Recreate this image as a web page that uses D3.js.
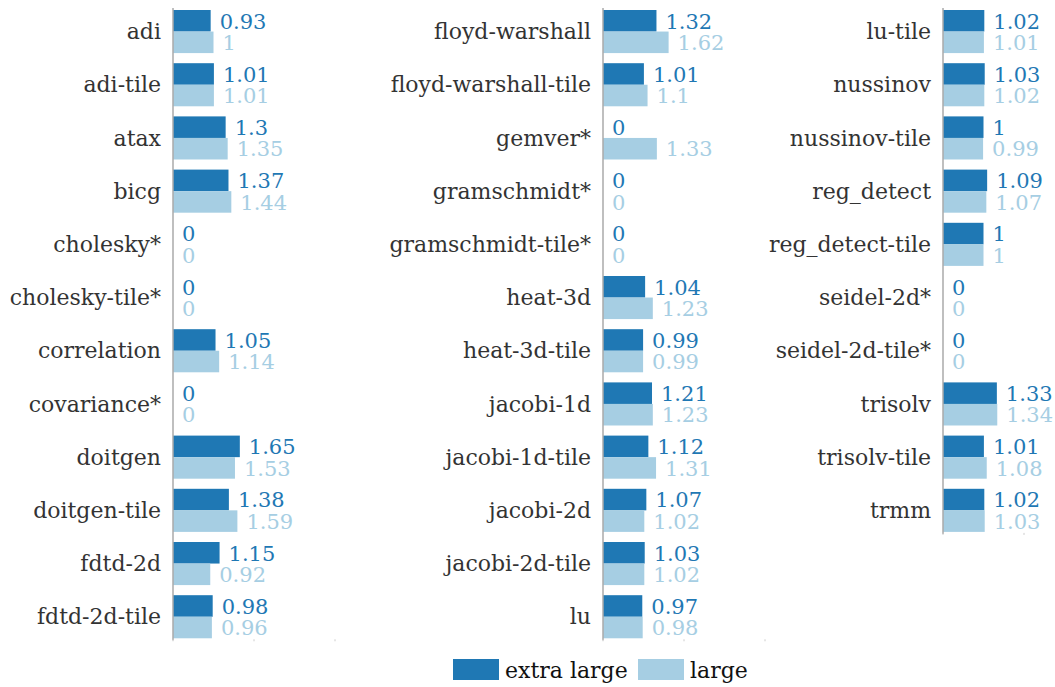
<!DOCTYPE html>
<html>
<head>
<meta charset="utf-8">
<script src="https://cdn.jsdelivr.net/npm/d3@7"></script>
<style>
  body { margin: 0; background: #fff; }
</style>
</head>
<body>
<div id="vis"></div>
<script>
const width = 1055;
const height = 687;
const fontFamily = "'DejaVu Serif', serif";

const series = ['extra large', 'large'];
const colors = ['#1f78b4', '#a6cee3'];

// three columns of benchmarks
const names1 = ['adi', 'adi-tile', 'atax', 'bicg', 'cholesky*', 'cholesky-tile*', 'correlation', 'covariance*', 'doitgen', 'doitgen-tile', 'fdtd-2d', 'fdtd-2d-tile'];
const extra1 = [0.93, 1.01, 1.3, 1.37, 0, 0, 1.05, 0, 1.65, 1.38, 1.15, 0.98];
const large1 = [1, 1.01, 1.35, 1.44, 0, 0, 1.14, 0, 1.53, 1.59, 0.92, 0.96];

const names2 = ['floyd-warshall', 'floyd-warshall-tile', 'gemver*', 'gramschmidt*', 'gramschmidt-tile*', 'heat-3d', 'heat-3d-tile', 'jacobi-1d', 'jacobi-1d-tile', 'jacobi-2d', 'jacobi-2d-tile', 'lu'];
const extra2 = [1.32, 1.01, 0, 0, 0, 1.04, 0.99, 1.21, 1.12, 1.07, 1.03, 0.97];
const large2 = [1.62, 1.1, 1.33, 0, 0, 1.23, 0.99, 1.23, 1.31, 1.02, 1.02, 0.98];

const names3 = ['lu-tile', 'nussinov', 'nussinov-tile', 'reg_detect', 'reg_detect-tile', 'seidel-2d*', 'seidel-2d-tile*', 'trisolv', 'trisolv-tile', 'trmm'];
const extra3 = [1.02, 1.03, 1, 1.09, 1, 0, 0, 1.33, 1.01, 1.02];
const large3 = [1.01, 1.02, 0.99, 1.07, 1, 0, 0, 1.34, 1.08, 1.03];

const xTicks = [0, 2, 4];

const svg = d3.select('#vis').append('svg')
  .attr('width', width)
  .attr('height', height)
  .attr('font-family', fontFamily);

const rowStep = 53.2;
const barPad = 0.19;
const marginTop = 10;

function drawPanel(axisX, names, extra, large) {
  const n = names.length;
  const y = d3.scaleBand()
    .domain(names)
    .range([marginTop, marginTop + (n - barPad) * rowStep])
    .paddingInner(barPad)
    .paddingOuter(0);
  const ySub = d3.scaleBand()
    .domain(series)
    .range([0, y.bandwidth()]);
  const x = d3.scaleLinear()
    .domain([0, 4])
    .range([0, 162]);

  const g = svg.append('g').attr('transform', `translate(${axisX},0)`);

  const rows = names.map((name, i) => ({ name, values: [extra[i], large[i]] }));

  const row = g.selectAll('g.row')
    .data(rows)
    .enter().append('g')
    .attr('class', 'row')
    .attr('transform', d => `translate(0,${y(d.name)})`);

  row.selectAll('rect')
    .data(d => d.values.map((v, j) => ({ v, key: series[j], j })))
    .enter().append('rect')
    .attr('x', 0)
    .attr('y', d => ySub(d.key))
    .attr('width', d => x(d.v))
    .attr('height', ySub.bandwidth())
    .attr('fill', d => colors[d.j]);

  row.selectAll('text.val')
    .data(d => d.values.map((v, j) => ({ v, key: series[j], j })))
    .enter().append('text')
    .attr('class', 'val')
    .attr('x', d => x(d.v) + 9)
    .attr('y', d => ySub(d.key) + ySub.bandwidth() - 3)
    .attr('fill', d => colors[d.j])
    .attr('font-size', 21)
    .text(d => d.v);

  row.append('text')
    .attr('x', -12)
    .attr('y', y.bandwidth() / 2)
    .attr('dy', '0.35em')
    .attr('text-anchor', 'end')
    .attr('fill', '#333')
    .attr('font-size', 22)
    .text(d => d.name);

  // axis line
  const [y0, y1] = y.range();
  g.append('line')
    .attr('x1', 0).attr('x2', 0)
    .attr('y1', y0 - 2).attr('y2', y1 + 2)
    .attr('stroke', '#aaa')
    .attr('stroke-width', 1.5);

  // faint bottom ticks
  g.selectAll('line.tick')
    .data(xTicks)
    .enter().append('line')
    .attr('class', 'tick')
    .attr('x1', d => x(d)).attr('x2', d => x(d))
    .attr('y1', y1 + 1).attr('y2', y1 + 3)
    .attr('stroke', '#ccc')
    .attr('stroke-width', 1);
}

drawPanel(173, names1, extra1, large1);
drawPanel(603, names2, extra2, large2);
drawPanel(943, names3, extra3, large3);

// legend
const legend = svg.append('g').attr('transform', 'translate(453,659)');
const legendX = [0, 185];
series.forEach((s, i) => {
  legend.append('rect')
    .attr('x', legendX[i])
    .attr('y', 0)
    .attr('width', 46)
    .attr('height', 21)
    .attr('fill', colors[i]);
  legend.append('text')
    .attr('x', legendX[i] + 52)
    .attr('y', 19)
    .attr('fill', '#111')
    .attr('font-size', 22)
    .text(s);
});
</script>
</body>
</html>
